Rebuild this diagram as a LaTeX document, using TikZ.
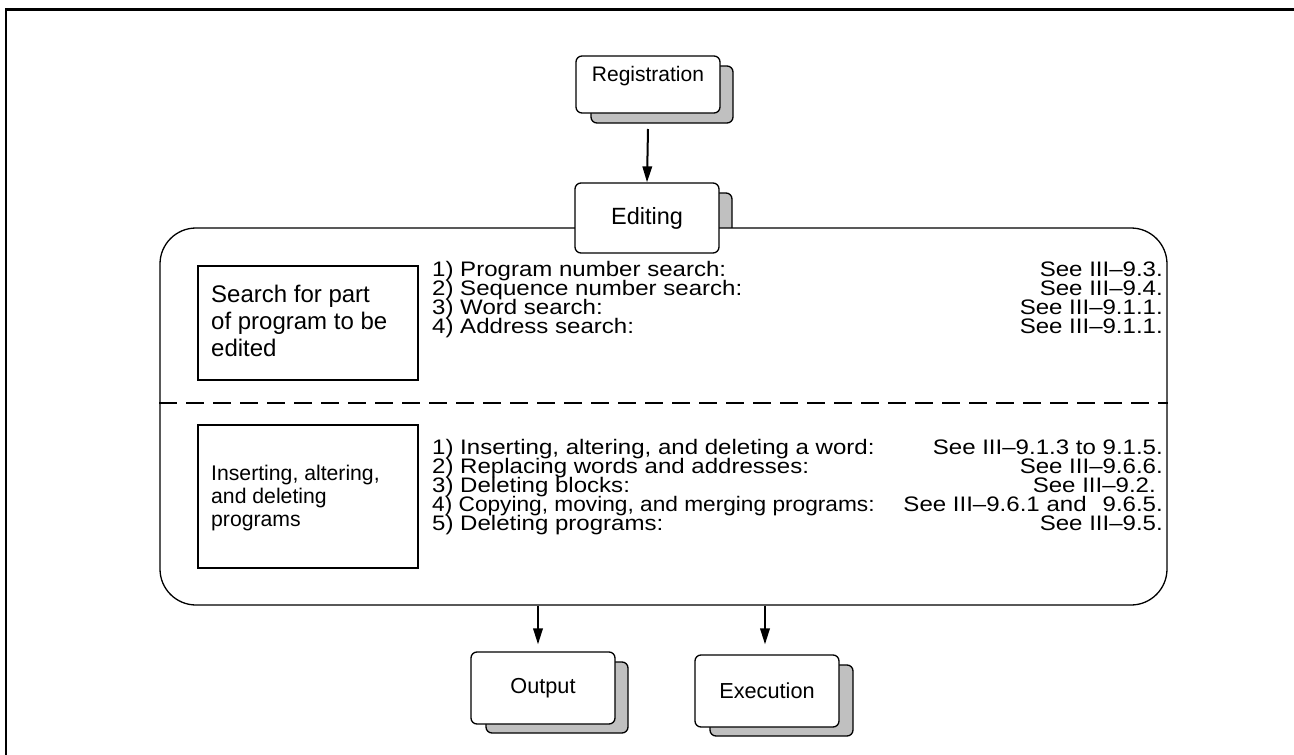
\documentclass[tikz,border=0pt]{standalone}
\usepackage{fontspec}
\setmainfont{Liberation Sans}
\newfontfamily\listfont{Liberation Sans}[FakeStretch=1.145]
\newfontfamily\listfontn{Liberation Sans}[FakeStretch=1.08]
\usetikzlibrary{arrows.meta}
\definecolor{shadowgray}{RGB}{192,192,192}
\begin{document}
\begin{tikzpicture}[x=1pt,y=-1pt,
  frontbox/.style={draw, fill=white, rounded corners=6pt, line width=1.3pt, inner sep=0pt, minimum width=144pt},
  shadowbox/.style={draw, fill=shadowgray, rounded corners=6pt, line width=1.3pt},
  plainbox/.style={draw, line width=1.3pt},
  arr/.style={line width=2pt, -{Triangle[length=16pt,width=9.5pt]}},
  lst/.style={inner sep=0pt, font=\listfont\fontsize{21}{18}\selectfont},
  boxtxt/.style={inner sep=0pt, font=\fontsize{24}{26}\selectfont, anchor=base west},
  boxtxtb/.style={inner sep=0pt, font=\fontsize{21.2}{23}\selectfont, anchor=base west}]
\useasboundingbox (0,0) rectangle (1294,755);
% outer frame (open on right and bottom)
\draw[line width=2.4pt] (6,755) -- (6,9.5) -- (1294,9.5);

% Registration
\draw[shadowbox] (591,66) rectangle (733,123);
\node[frontbox, minimum height=57pt] (reg) at (648,84.5) {};
\node[inner sep=0pt, font=\fontsize{21}{24}\selectfont] (regtxt) at (648,76) {Registration};

% Editing
\draw[shadowbox] (590,193) rectangle (732,240);
\node[draw, fill=white, line width=1.3pt, rounded corners=36pt, minimum width=1007pt, minimum height=377pt, inner sep=0pt] (area) at (663.5,416.5) {};
\node[frontbox, minimum height=70pt, font=\fontsize{23.5}{26}\selectfont] (edit) at (647,218) {Editing};

\draw[arr] (reg.south |- 129,129) -- (edit.north);

% dashed separator
\draw[line width=1.1pt, dash pattern=on 18pt off 9pt] (area.west |- 0,403) -- (area.east |- 0,403);

% search box
\node[plainbox, minimum width=220pt, minimum height=114pt, inner sep=0pt] (search) at (308,323) {};
\node[boxtxt] (st1) at (211,302.5) {Search for part};
\node[boxtxt] (st2) at (211,329.2) {of program to be};
\node[boxtxt] (st3) at (211,356) {edited};

\node[lst, anchor=base west] (a1) at (432,276) {1) Program number search:};
\node[lst, anchor=base west] (a2) at (432,295) {2) Sequence number search:};
\node[lst, anchor=base west] (a3) at (432,314) {3) Word search:};
\node[lst, anchor=base west] (a4) at (432,333) {4) Address search:};
\node[lst, anchor=base east] (b1) at (1163,276) {See III–9.3.};
\node[lst, anchor=base east] (b2) at (1163,295) {See III–9.4.};
\node[lst, anchor=base east] (b3) at (1163,314) {See III–9.1.1.};
\node[lst, anchor=base east] (b4) at (1163,333) {See III–9.1.1.};

% inserting box
\node[plainbox, minimum width=220pt, minimum height=143pt, inner sep=0pt] (insert) at (308,496.5) {};
\node[boxtxtb] (it1) at (211,480) {Inserting, altering,};
\node[boxtxtb] (it2) at (211,503) {and deleting};
\node[boxtxtb] (it3) at (211,526) {programs};

\node[lst, anchor=base west] (c1) at (432,454) {1) Inserting, altering, and deleting a word:};
\node[lst, anchor=base west] (c2) at (432,473) {2) Replacing words and addresses:};
\node[lst, anchor=base west] (c3) at (432,492) {3) Deleting blocks:};
\node[lst, anchor=base west, font=\listfontn\fontsize{21}{18}\selectfont] (c4) at (432,511) {4) Copying, moving, and merging programs:};
\node[lst, anchor=base west] (c5) at (432,530) {5) Deleting programs:};
\node[lst, anchor=base east] (d1) at (1163,454) {See III–9.1.3 to 9.1.5.};
\node[lst, anchor=base east] (d2) at (1163,473) {See III–9.6.6.};
\node[lst, anchor=base east] (d3) at (1156,492) {See III–9.2.};
\node[lst, anchor=base east] (d4) at (1163,511) {See III–9.6.1 and\hspace{16pt}9.6.5.};
\node[lst, anchor=base east] (d5) at (1163,530) {See III–9.5.};

% Output
\draw[shadowbox] (486,662) rectangle (628,733);
\node[frontbox, minimum height=72pt, font=\fontsize{21.7}{24}\selectfont] (outp) at (543,688) {Output};
% Execution
\draw[shadowbox] (710,665) rectangle (853,736);
\node[frontbox, minimum height=72pt, font=\fontsize{21.7}{24}\selectfont] (exec) at (767,691) {Execution};

\draw[arr] ([xshift=-5pt]outp.north |- area.south) -- ([xshift=-5pt,yshift=7pt]outp.north);
\draw[arr] ([xshift=-2pt]exec.north |- area.south) -- ([xshift=-2pt,yshift=10pt]exec.north);
\end{tikzpicture}
\end{document}
